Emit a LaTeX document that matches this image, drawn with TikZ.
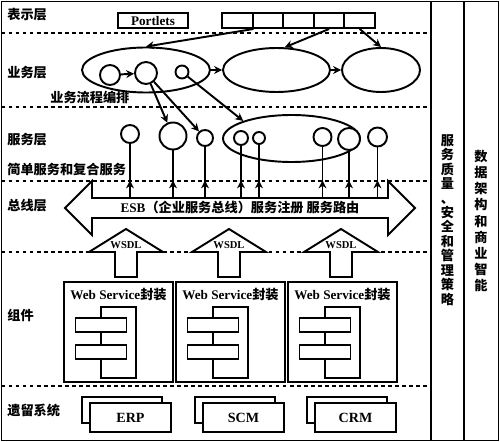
\documentclass[tikz,border=0pt]{standalone}
\usepackage{fontspec}
\setmainfont{Liberation Serif}
\newfontfamily\cjk{Noto Sans CJK SC}
\usetikzlibrary{shapes.geometric,arrows.meta,decorations.markings}

\tikzset{
  line/.style={line width=1.1pt},
  sepline/.style={line width=1.4pt, dash pattern=on 2.2pt off 1.8pt},
  layer/.style={anchor=west, inner sep=0pt, font=\cjk\bfseries\fontsize{7.5}{9}\selectfont},
  cell/.style={draw, line width=1.1pt, minimum height=0.3cm, inner sep=0pt},
  proc/.style={ellipse, draw, line width=1.1pt, inner sep=0pt},
  svc/.style={circle, draw, line width=1.1pt, fill=white, inner sep=0pt},
  flow/.style={line width=1.1pt, -{Stealth[length=4.5pt,width=4.5pt]}},
  stem/.style={line width=1.1pt, postaction={decorate},
    decoration={markings, mark=at position 10pt with {\arrow{Stealth[length=4.5pt,width=4.5pt]}}}},
  compbox/.style={draw, line width=1.1pt, minimum width=2.18cm, minimum height=2cm, inner sep=0pt},
  sysbox/.style={draw, line width=1.1pt, fill=white, minimum width=1.62cm, minimum height=0.58cm,
    inner sep=0pt, font=\bfseries\fontsize{8}{9}\selectfont},
  vlabel/.style={align=center, inner sep=0pt, font=\cjk\bfseries\fontsize{7.5}{8.2}\selectfont},
}

\begin{document}
\begin{tikzpicture}[x=0.02cm, y=-0.02cm]
  \useasboundingbox (0,0) rectangle (500,442);
  % frame and layer separators
  \draw[line] (1.5,1.5) rectangle (498.5,440.5);
  \draw[line] (431,1.5) -- (431,440.5);
  \draw[line] (464,1.5) -- (464,440.5);
  \foreach \y in {33,107,181,252,386}
    \draw[sepline] (1.5,\y) -- (429,\y);

  % presentation layer
  \node[layer] (lpres) at (7,15) {表示层};
  \node[cell, minimum width=1.4cm, font=\bfseries\fontsize{7.5}{9}\selectfont] (portal) at (153,20.5) {Portlets};
  \foreach \i in {1,...,5}
    \node[cell, minimum width=0.612cm] (cell\i) at ({222+30.6*(\i-0.5)},20.5) {};

  % business layer
  \node[layer] (lbiz) at (7,73) {业务层};
  \node[proc, minimum width=2.56cm, minimum height=0.9cm] (proc1) at (146,70) {};
  \node[proc, minimum width=2.14cm, minimum height=0.88cm] (proc2) at (276.5,70) {};
  \node[proc, minimum width=1.56cm, minimum height=0.88cm] (proc3) at (381,70) {};
  \node[svc, minimum size=0.4cm] (b1) at (110,75) {};
  \node[svc, minimum size=0.44cm] (b2) at (146,73) {};
  \node[svc, minimum size=0.26cm] (b3) at (182,72) {};
  \node[layer] (lorch) at (50,97) {业务流程编排};
  \draw[flow] (proc1) -- (proc2);
  \draw[flow] (proc2) -- (proc3);
  \draw[flow] (b1) -- (b2);
  \draw[flow] (cell1.south east) -- (proc1.north);
  \draw[flow] (cell4.south) -- (proc2.70);
  \draw[flow] (cell5.south) -- (proc3.north);

  % service layer
  \node[layer] (lsvc) at (7,140) {服务层};
  \node[layer] (lsimple) at (7,169) {简单服务和复合服务};
  \node[proc, minimum width=2.74cm, minimum height=0.94cm] (grp) at (291.5,138.5) {};
  \foreach \i/\x/\y/\d in {1/130/134/18, 2/173/136/27, 3/205/138/16, 4/241/138/14,
                           5/259/138/12, 6/322.5/137/18, 7/349/139/22, 8/377.5/137/19} {
    \node[svc, minimum size=\d*0.02cm] (s\i) at (\x,\y) {};
    \coordinate (t\i) at (\x,198);
    \draw[stem] (t\i) -- (s\i);
  }
  \draw[flow] (b2) -- (s2);
  \draw[flow] (b2) -- (s3);
  \draw[flow] (b3) -- (grp.160);

  % bus layer
  \node[layer] (lbus) at (7,206) {总线层};
  \draw[line, fill=white] (65,208) -- (92,181) -- (92,198) -- (388,198) -- (388,181) -- (415,208)
    -- (388,235) -- (388,218) -- (92,218) -- (92,235) -- cycle;
  \node[inner sep=0pt, font=\bfseries\fontsize{7.5}{9}\selectfont] (esb) at (240,208)
    {ESB{\cjk（企业服务总线）服务注册 服务路由}};
  \foreach \i/\x in {1/126,2/229,3/341} {
    \draw[line, fill=white] (\x,229) -- (\x+37,252) -- (\x+11,252) -- (\x+11,277)
      -- (\x-11,277) -- (\x-11,252) -- (\x-37,252) -- cycle;
    \node[inner sep=0pt, font=\bfseries\fontsize{6}{7}\selectfont] (wsdl\i) at (\x,245) {WSDL};
  }

  % components
  \node[layer] (lcomp) at (7,315) {组件};
  \foreach \i/\x in {1/118.5,2/230.5,3/342.5} {
    \node[compbox] (comp\i) at (\x,332) {};
    \node[inner sep=0pt, font=\bfseries\fontsize{7.5}{9}\selectfont] (ws\i) at (\x,295) {Web Service{\cjk 封装}};
    \draw[line] (\x-17.5,307) rectangle (\x+17.5,378);
    \draw[line, fill=white] (\x-43,318) rectangle (\x+8,332);
    \draw[line, fill=white] (\x-43,345) rectangle (\x+8,359);
  }

  % legacy systems
  \node[layer] (llegacy) at (7,410) {遗留系统};
  \foreach \name/\x in {ERP/82,SCM/195,CRM/307} {
    \draw[line] (\x,397) rectangle (\x+80,423);
    \node[sysbox] (\name) at (\x+48.5,417.5) {\name};
  }

  % cross-cutting columns
  \node[vlabel] (qos) at (447.5,220) {服\\务\\质\\量\\、\\安\\全\\和\\管\\理\\策\\略};
  \node[vlabel, font=\cjk\bfseries\fontsize{7.5}{9.2}\selectfont] (bi) at (481,221) {数\\据\\架\\构\\和\\商\\业\\智\\能};
\end{tikzpicture}
\end{document}
